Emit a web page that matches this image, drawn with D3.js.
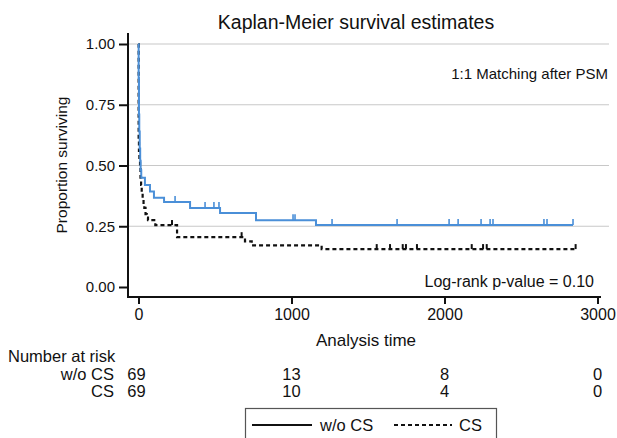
<!DOCTYPE html>
<html><head><meta charset="utf-8">
<script src="https://cdn.jsdelivr.net/npm/d3@7"></script>
<style>
body{margin:0;background:#fff;}
text{font-family:"Liberation Sans",Arial,sans-serif;fill:#111;}
</style></head>
<body><svg id="c" width="617" height="438"></svg>
<script>
// ---- data ----
const groups = ["w/o CS", "CS"];
const timesWoCS = [0, 1, 3, 5, 8, 11, 14, 18, 42, 75, 101, 167, 337, 533, 768, 1160];
const survWoCS  = [1.0, 0.86, 0.71, 0.64, 0.57, 0.52, 0.48, 0.45, 0.42, 0.393, 0.367, 0.35, 0.325, 0.305, 0.275, 0.255];
const endWoCS = 2840;
const censorWoCS = [239, 435, 493, 526, 1010, 1023, 1265, 1690, 2030, 2089, 2239, 2298, 2317, 2650, 2670, 2840];

const timesCS = [0, 1, 3, 6, 10, 13, 17, 21, 27, 33, 38, 46, 54, 62, 110, 252, 696, 740, 1197];
const survCS  = [1.0, 0.60, 0.56, 0.52, 0.49, 0.45, 0.42, 0.39, 0.36, 0.34, 0.326, 0.30, 0.286, 0.275, 0.255, 0.205, 0.188, 0.171, 0.156];
const endCS = 2857;
const censorCS = [219, 674, 1557, 1644, 1727, 1748, 1820, 2178, 2252, 2276, 2857];

const xTicks = [0, 1000, 2000, 3000];
const yTicks = [0, 0.25, 0.5, 0.75, 1.0];
const riskWoCS = [69, 13, 8, 0];
const riskCS = [69, 10, 4, 0];

// ---- drawing ----
const svg = d3.select("#c");
const x = d3.scaleLinear().domain([0, 3000]).range([138.5, 597.5]);
const y = d3.scaleLinear().domain([0, 1]).range([287, 44]);
const axisLeftX = 128, axisBottomY = 297;
const FONT = "Liberation Sans, Arial, sans-serif";

// title
svg.append("text").attr("x", 356).attr("y", 29).attr("text-anchor", "middle")
  .attr("font-size", 19.5).text("Kaplan-Meier survival estimates");

// grid
svg.append("g").selectAll("line").data(yTicks.filter(d => d > 0)).join("line")
  .attr("x1", axisLeftX).attr("x2", 609).attr("y1", d => y(d)).attr("y2", d => y(d))
  .attr("stroke", "#c8c8c8").attr("stroke-width", 1.2);

// y axis
const yAxis = d3.axisLeft(y).tickValues(yTicks).tickFormat(d3.format(".2f")).tickSize(9).tickPadding(4);
const gy = svg.append("g").attr("transform", `translate(${axisLeftX},0)`).call(yAxis);
gy.select(".domain").attr("d", `M0,33V${axisBottomY}`).attr("stroke", "#111").attr("stroke-width", 2);
gy.selectAll(".tick line").attr("stroke", "#111").attr("stroke-width", 2);
gy.selectAll(".tick text").attr("font-size", 15).attr("font-family", FONT).attr("fill", "#111");

// x axis
const xAxis = d3.axisBottom(x).tickValues(xTicks).tickFormat(d3.format("d")).tickSize(7).tickPadding(5);
const gx = svg.append("g").attr("transform", `translate(0,${axisBottomY})`).call(xAxis);
gx.select(".domain").attr("d", `M${axisLeftX - 1},0H601`).attr("stroke", "#111").attr("stroke-width", 2);
gx.selectAll(".tick line").attr("stroke", "#111").attr("stroke-width", 2);
gx.selectAll(".tick text").attr("font-size", 16).attr("font-family", FONT).attr("fill", "#111");

// axis titles
svg.append("text").attr("transform", `translate(67,165) rotate(-90)`).attr("text-anchor", "middle")
  .attr("font-size", 15.5).text("Proportion surviving");
svg.append("text").attr("x", 366).attr("y", 346).attr("text-anchor", "middle")
  .attr("font-size", 17).text("Analysis time");

// annotations
svg.append("text").attr("x", 608).attr("y", 79).attr("text-anchor", "end")
  .attr("font-size", 15).text("1:1 Matching after PSM");
svg.append("text").attr("x", 594).attr("y", 287).attr("text-anchor", "end")
  .attr("font-size", 16).text("Log-rank p-value = 0.10");

function stepData(times, surv, end) {
  const pts = times.map((t, i) => [t, surv[i]]);
  pts.push([end, surv[surv.length - 1]]);
  return pts;
}
function survAt(times, surv, t) {
  let v = surv[0];
  for (let i = 0; i < times.length; i++) if (times[i] <= t) v = surv[i];
  return v;
}
const line = d3.line().x(d => x(d[0])).y(d => y(d[1])).curve(d3.curveStepAfter);

// CS dashed (drawn first)
const csData = stepData(timesCS, survCS, endCS);
svg.append("path").attr("d", line(csData)).attr("fill", "none").attr("stroke", "#111")
  .attr("stroke-width", 2.2).attr("stroke-dasharray", "4,3");
svg.append("g").selectAll("line").data(censorCS).join("line")
  .attr("x1", d => x(d)).attr("x2", d => x(d))
  .attr("y1", d => y(survAt(timesCS, survCS, d))).attr("y2", d => y(survAt(timesCS, survCS, d)) - 5)
  .attr("stroke", "#111").attr("stroke-width", 2);

// w/o CS solid blue
const woData = stepData(timesWoCS, survWoCS, endWoCS);
const blue = "#4a8fd8";
svg.append("path").attr("d", line(woData)).attr("fill", "none").attr("stroke", blue)
  .attr("stroke-width", 2);
svg.append("g").selectAll("line").data(censorWoCS).join("line")
  .attr("x1", d => x(d)).attr("x2", d => x(d))
  .attr("y1", d => y(survAt(timesWoCS, survWoCS, d))).attr("y2", d => y(survAt(timesWoCS, survWoCS, d)) - 6)
  .attr("stroke", blue).attr("stroke-width", 1.6);

// number at risk
svg.append("text").attr("x", 8).attr("y", 362).attr("font-size", 16.5).text("Number at risk");
const rows = [{label: groups[0], vals: riskWoCS, yy: 380}, {label: groups[1], vals: riskCS, yy: 397}];
rows.forEach(r => {
  svg.append("text").attr("x", 114).attr("y", r.yy).attr("text-anchor", "end").attr("font-size", 16.5).text(r.label);
  svg.append("g").selectAll("text").data(r.vals).join("text")
    .attr("x", (d, i) => x(xTicks[i]) - (i === 0 ? 2 : 0)).attr("y", r.yy).attr("text-anchor", "middle")
    .attr("font-size", 16.5).text(d => d);
});

// legend
const lg = svg.append("g");
lg.append("rect").attr("x", 245.5).attr("y", 408.5).attr("width", 251).attr("height", 40)
  .attr("fill", "#fff").attr("stroke", "#555").attr("stroke-width", 1.2);
lg.append("line").attr("x1", 252).attr("x2", 312).attr("y1", 425).attr("y2", 425)
  .attr("stroke", "#111").attr("stroke-width", 2.2);
lg.append("text").attr("x", 320).attr("y", 431).attr("font-size", 16.5).text(groups[0]);
lg.append("line").attr("x1", 394).attr("x2", 452).attr("y1", 425).attr("y2", 425)
  .attr("stroke", "#111").attr("stroke-width", 2.2).attr("stroke-dasharray", "4,3");
lg.append("text").attr("x", 459).attr("y", 431).attr("font-size", 16.5).text(groups[1]);
</script></body></html>
